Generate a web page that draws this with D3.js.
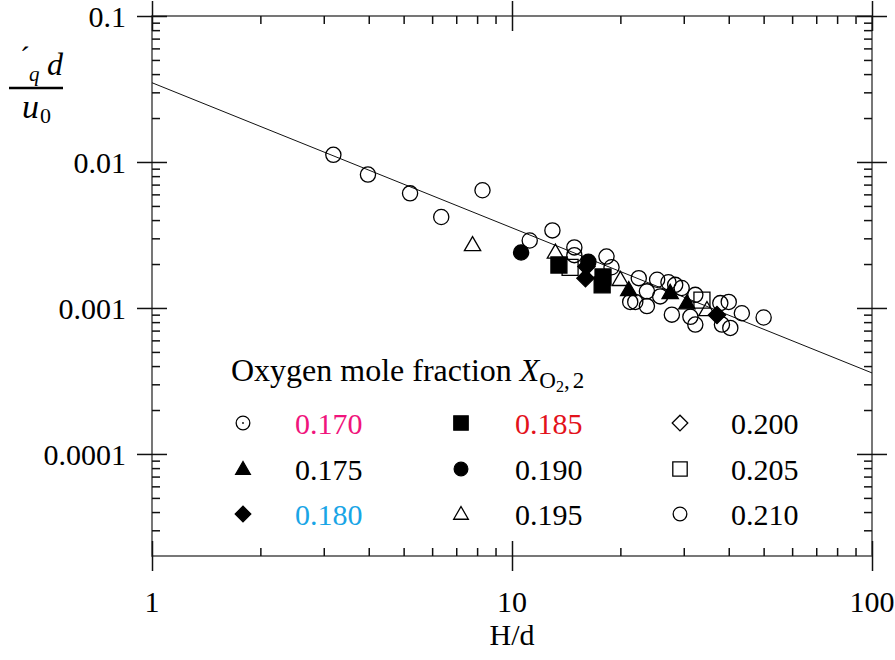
<!DOCTYPE html>
<html>
<head>
<meta charset="utf-8">
<script src="https://cdn.jsdelivr.net/npm/d3@7"></script>
<style>
  html, body { margin: 0; padding: 0; background: #fff; }
  svg { display: block; }
  text { font-family: "Liberation Serif", "Times New Roman", serif; }
</style>
</head>
<body>
<svg id="chart" width="895" height="660"></svg>
<script>
// Axis ticks
const xMajor = [1, 10, 100];
const xMajorLabels = ["1", "10", "100"];
const yMajor = [0.1, 0.01, 0.001, 0.0001];
const yMajorLabels = ["0.1", "0.01", "0.001", "0.0001"];

// Correlation line end points
const fitX = [1, 100];
const fitY = [0.0349, 0.000359];

// Measurements by oxygen mole fraction: H/d and the dimensionless quantity
const hd170 = [];
const val170 = [];
const hd175 = [21.1, 27.5, 30.6];
const val175 = [0.00133, 0.00127, 0.00108];
const hd180 = [16.1, 16.0, 37.1];
const val180 = [0.00192, 0.0016, 0.000895];
const hd185 = [13.5, 17.8, 17.9];
const val185 = [0.00197, 0.00144, 0.00163];
const hd190 = [10.6, 16.3];
const val190 = [0.0024, 0.00207];
const hd195 = [7.77, 13.2, 20.0, 34.8];
const val195 = [0.0027, 0.0024, 0.00156, 0.00097];
const hd200 = [];
const val200 = [];
const hd205 = [14.5, 33.7];
const val205 = [0.0019, 0.00113];
const hd210 = [3.19, 3.98, 5.21, 6.36, 8.28, 11.2, 12.95, 14.9, 14.9, 18.3, 18.9,
               22.5, 21.3, 22.0, 23.7, 23.7, 25.3, 25.8, 27.2, 28.4, 29.6, 27.8,
               32.3, 31.3, 32.3, 37.9, 40.0, 43.5, 50.0, 38.3, 40.4];
const val210 = [0.0112, 0.0082, 0.0061, 0.0042, 0.0064, 0.0029, 0.0034, 0.0026, 0.0023, 0.00225, 0.0019,
                0.0016, 0.0011, 0.0011, 0.0013, 0.00103, 0.00156, 0.0012, 0.0015, 0.00144, 0.00137, 0.0009,
                0.00123, 0.00087, 0.00077, 0.00108, 0.0011, 0.00092, 0.00086, 0.00077, 0.00073];

const seriesLabels = ["0.170", "0.175", "0.180", "0.185", "0.190", "0.195", "0.200", "0.205", "0.210"];
const labelColors = ["#f0147c", "#000000", "#19a5e6", "#e3121b", "#000000", "#000000", "#000000", "#000000", "#000000"];
const seriesHd = [hd170, hd175, hd180, hd185, hd190, hd195, hd200, hd205, hd210];
const seriesVal = [val170, val175, val180, val185, val190, val195, val200, val205, val210];

// marker kind and fill per series
const markerKind = ["dotcircle", "triangle", "diamond", "square", "circle", "triangle", "diamond", "square", "circle"];
const markerFilled = [false, true, true, true, true, false, false, false, false];

const svg = d3.select("#chart");
const plotL = 152, plotR = 872, plotT = 16, plotB = 556;

const x = d3.scaleLog().domain([1, 100]).range([plotL, plotR]);
const y = d3.scaleLog().domain([2e-5, 0.1]).range([plotB, plotT]);

const xMinor = [];
for (let d = 1; d < 100; d *= 10) for (let k = 2; k <= 9; k++) xMinor.push(d * k);
const yMinor = [];
for (let d = 1e-5; d < 0.1; d *= 10) for (let k = 2; k <= 9; k++) { const v = d * k; if (v >= 2.5e-5 && v < 0.1) yMinor.push(v); }

const axisStroke = "#555";
const tickStroke = "#111";

function styleAxis(g) {
  g.select(".domain").remove();
  g.selectAll(".tick line").attr("stroke", tickStroke).attr("stroke-width", 1.5);
}

// frame
svg.append("rect").attr("x", plotL).attr("y", plotT).attr("width", plotR - plotL).attr("height", plotB - plotT)
  .attr("fill", "none").attr("stroke", axisStroke).attr("stroke-width", 1.6);

// minor ticks, pointing inward
svg.append("g").attr("transform", `translate(0,${plotB})`)
  .call(d3.axisTop(x).tickValues(xMinor).tickSize(8).tickFormat("")).call(styleAxis);
svg.append("g").attr("transform", `translate(0,${plotT})`)
  .call(d3.axisBottom(x).tickValues(xMinor).tickSize(8).tickFormat("")).call(styleAxis);
svg.append("g").attr("transform", `translate(${plotL},0)`)
  .call(d3.axisRight(y).tickValues(yMinor).tickSize(8).tickFormat("")).call(styleAxis);
svg.append("g").attr("transform", `translate(${plotR},0)`)
  .call(d3.axisLeft(y).tickValues(yMinor).tickSize(8).tickFormat("")).call(styleAxis);

// major ticks crossing each side
[[plotB, d3.axisTop], [plotB, d3.axisBottom], [plotT, d3.axisTop], [plotT, d3.axisBottom]].forEach(([pos, ax]) => {
  svg.append("g").attr("transform", `translate(0,${pos})`)
    .call(ax(x).tickValues(xMajor).tickSize(15).tickFormat("")).call(styleAxis);
});
[[plotL, d3.axisLeft], [plotL, d3.axisRight], [plotR, d3.axisLeft], [plotR, d3.axisRight]].forEach(([pos, ax]) => {
  svg.append("g").attr("transform", `translate(${pos},0)`)
    .call(ax(y).tickValues(yMajor).tickSize(15).tickFormat("")).call(styleAxis);
});

// tick labels
svg.append("g").selectAll("text").data(xMajor).join("text")
  .attr("x", d => x(d)).attr("y", 612).attr("text-anchor", "middle")
  .attr("font-size", 30).attr("fill", "#000")
  .text((d, i) => xMajorLabels[i]);
svg.append("g").selectAll("text").data(yMajor).join("text")
  .attr("x", 126).attr("y", d => y(d) + 11).attr("text-anchor", "end")
  .attr("font-size", 30).attr("fill", "#000")
  .text((d, i) => yMajorLabels[i]);

// axis titles
svg.append("text").attr("x", x(10)).attr("y", 645).attr("text-anchor", "middle")
  .attr("font-size", 30).text("H/d");

const yl = svg.append("g");
yl.append("text").attr("x", 20).attr("y", 67).attr("font-size", 30).text("\u00B4");
yl.append("text").attr("x", 29).attr("y", 81).attr("font-size", 21).attr("font-style", "italic").text("q");
yl.append("text").attr("x", 47).attr("y", 75).attr("font-size", 32).attr("font-style", "italic").text("d");
yl.append("line").attr("x1", 9).attr("x2", 63).attr("y1", 88).attr("y2", 88).attr("stroke", "#000").attr("stroke-width", 2.5);
yl.append("text").attr("x", 22).attr("y", 118).attr("font-size", 34).attr("font-style", "italic").text("u");
yl.append("text").attr("x", 40).attr("y", 123).attr("font-size", 22).text("0");

// correlation line
svg.append("path")
  .attr("d", d3.line().x(d => x(d[0])).y(d => y(d[1]))(fitX.map((v, i) => [v, fitY[i]])))
  .attr("fill", "none").attr("stroke", "#111").attr("stroke-width", 1);

// marker drawing
function drawMarker(g, kind, filled, cx, cy, scale) {
  const s = scale || 1;
  const fill = filled ? "#000" : "none";
  const common = sel => sel.attr("fill", fill).attr("stroke", "#000").attr("stroke-width", 1.3);
  if (kind === "circle" || kind === "dotcircle") {
    common(g.append("circle").attr("cx", cx).attr("cy", cy).attr("r", 7.6 * s));
    if (kind === "dotcircle") g.append("circle").attr("cx", cx).attr("cy", cy).attr("r", 0.9).attr("fill", "#000");
  } else if (kind === "square") {
    common(g.append("path").attr("d", d3.symbol(d3.symbolSquare, 256 * s * s)())
      .attr("transform", `translate(${cx},${cy})`));
  } else if (kind === "diamond") {
    common(g.append("path").attr("d", d3.symbol(d3.symbolSquare, 150 * s * s)())
      .attr("transform", `translate(${cx},${cy}) rotate(45)`));
  } else if (kind === "triangle") {
    common(g.append("path").attr("d", d3.symbol(d3.symbolTriangle, 115 * s * s)())
      .attr("transform", `translate(${cx},${cy + 1})`));
  }
}

const pts = svg.append("g");
// open symbols first, then filled ones on top
const drawOrder = [8, 0, 5, 6, 7, 1, 2, 3, 4];
drawOrder.forEach(i => {
  seriesHd[i].forEach((h, j) => {
    drawMarker(pts, markerKind[i], markerFilled[i], x(h), y(seriesVal[i][j]), 1);
  });
});

// legend
const lg = svg.append("g");
const title = lg.append("text").attr("x", 231).attr("y", 381).attr("font-size", 32);
title.append("tspan").text("Oxygen mole fraction ");
title.append("tspan").attr("font-style", "italic").text("X");
title.append("tspan").attr("font-size", 23).attr("dy", 7).text("O");
title.append("tspan").attr("font-size", 16).attr("dy", 4).text("2");
title.append("tspan").attr("font-size", 23).attr("dy", -4).text(",");
title.append("tspan").attr("font-size", 23).attr("dx", 3).text("2");

const colMarkerX = [243, 461, 680];
const colTextX = [295, 515, 731];
const rowY = [423, 469, 514];
seriesLabels.forEach((lab, i) => {
  const c = Math.floor(i / 3), r = i % 3;
  drawMarker(lg, markerKind[i], markerFilled[i], colMarkerX[c], rowY[r], 0.9);
  lg.append("text").attr("x", colTextX[c]).attr("y", rowY[r] + 11)
    .attr("font-size", 30).attr("fill", labelColors[i]).text(lab);
});
</script>
</body>
</html>
